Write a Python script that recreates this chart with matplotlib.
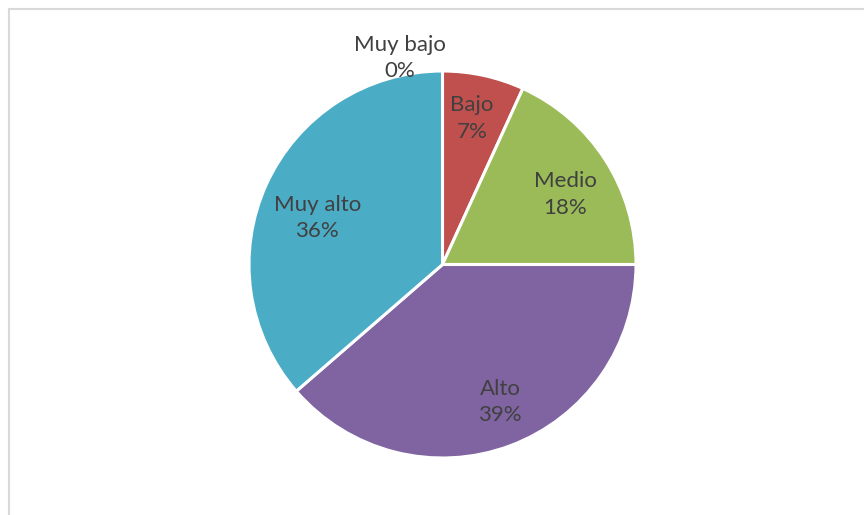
"""
Pie chart of levels (Muy bajo .. Muy alto)
"""
import numpy as np
import matplotlib.pyplot as plt
from matplotlib.patches import Rectangle

categories = ["Muy bajo", "Bajo", "Medio", "Alto", "Muy alto"]
counts = [0, 3, 8, 17, 16]
colors = ["#F79646", "#C0504D", "#9BBB59", "#8064A2", "#4BACC6"]

# label radius (fraction of pie radius) and angle shift in degrees
label_r = [1.09, 0.77, 0.73, 0.77, 0.69]
label_shift = [11.6, 0.9, -3.1, 2.2, 4.2]

plt.rcParams['font.family'] = ['Lato', 'DejaVu Sans']

fig = plt.figure(figsize=(8.64, 5.15), dpi=100)
fig.patches.append(Rectangle((9 / 864, -0.05), 1.0, (515 - 8.5) / 515 + 0.05,
                             transform=fig.transFigure, fill=False,
                             edgecolor="#D9D9D9", linewidth=1.5))

ax = fig.add_axes([(442.5 - 193.5) / 864, (515 - 264.5 - 193.5) / 515, 387 / 864, 387 / 515])
wedges, _ = ax.pie(counts, colors=colors, startangle=90, counterclock=False,
                   wedgeprops=dict(edgecolor="white", linewidth=2.2))
ax.set_xlim(-1, 1)
ax.set_ylim(-1, 1)
ax.set_aspect("equal")

total = sum(counts)
for w, name, c, r, s in zip(wedges, categories, counts, label_r, label_shift):
    mid = np.deg2rad((w.theta1 + w.theta2) / 2 + s)
    x, y = r * np.cos(mid), r * np.sin(mid)
    ax.text(x, y, f"{name}\n{c / total:.0%}", ha="center", va="center",
            fontsize=16, color="#404040", linespacing=1.4)

fig.savefig("out.png", dpi=100)
